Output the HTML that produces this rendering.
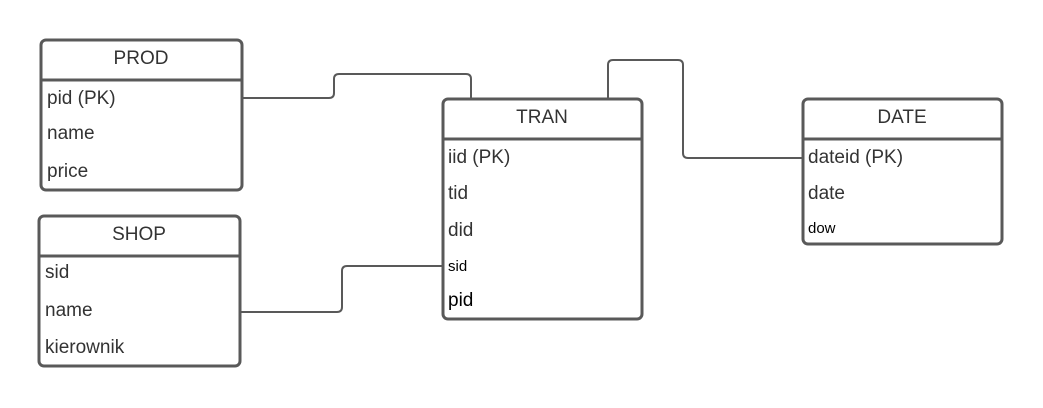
<!DOCTYPE html>
<html><head><meta charset="utf-8"><style>
html,body{margin:0;padding:0;background:#fff;}
svg{display:block;}
text{font-family:"Liberation Sans",sans-serif;}
</style></head><body>
<svg width="1043" height="408" viewBox="0 0 1043 408" xmlns="http://www.w3.org/2000/svg">
<g fill="none" stroke="#595959" stroke-width="2">
<path d="M243 98 H329 Q334 98 334 93 V79 Q334 74 339 74 H466 Q471 74 471 79 V99"/>
<path d="M608 99 V65 Q608 60 613 60 H678 Q683 60 683 65 V153 Q683 158 688 158 H803"/>
<path d="M241 312 H337 Q342 312 342 307 V271 Q342 266 347 266 H443"/>
</g>
<g fill="#fff" stroke="#595959" stroke-width="3">
<rect x="41" y="40" width="201" height="150" rx="5"/>
<rect x="39" y="216" width="201" height="150" rx="5"/>
<rect x="443" y="99" width="199" height="220" rx="5"/>
<rect x="803" y="99" width="199" height="145" rx="5"/>
</g>
<g stroke="#595959" stroke-width="3">
<line x1="41" y1="80" x2="242" y2="80"/>
<line x1="39" y1="256" x2="240" y2="256"/>
<line x1="443" y1="139" x2="642" y2="139"/>
<line x1="803" y1="139" x2="1002" y2="139"/>
</g>
<g font-size="19" fill="#333">
<text x="141" y="64" text-anchor="middle">PROD</text>
<text x="47" y="104">pid (PK)</text>
<text x="47" y="139">name</text>
<text x="47" y="177">price</text>
<text x="139" y="240" text-anchor="middle">SHOP</text>
<text x="45" y="278">sid</text>
<text x="45" y="316">name</text>
<text x="45" y="353">kierownik</text>
<text x="542" y="123" text-anchor="middle">TRAN</text>
<text x="448" y="163">iid (PK)</text>
<text x="448" y="199">tid</text>
<text x="448" y="236">did</text>
<text x="902" y="123" text-anchor="middle">DATE</text>
<text x="808" y="163">dateid (PK)</text>
<text x="808" y="199">date</text>
</g>
<text x="448" y="271" font-size="15" fill="#000">sid</text>
<text x="448" y="306" font-size="19" fill="#000">pid</text>
<text x="808" y="233" font-size="15" fill="#000">dow</text>
</svg>
</body></html>
